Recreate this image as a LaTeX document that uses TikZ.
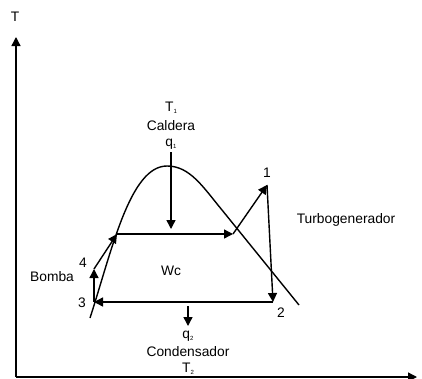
\documentclass[tikz,border=0pt]{standalone}
\usepackage{fontspec}
\setmainfont{Liberation Sans}
\usetikzlibrary{arrows.meta}
\newcommand{\sbs}[1]{\raisebox{-0.3ex}{\fontsize{6}{6}\selectfont #1}}
\tikzset{
  ln/.style={line width=1.4pt},
  arr/.style={ln,-{Triangle[length=9pt,width=9pt]}},
  lbl/.style={inner sep=0pt,font=\fontsize{13.8}{15}\selectfont}
}
\begin{document}
\begin{tikzpicture}[x=1pt,y=-1pt]
\useasboundingbox (0,0) rectangle (422,378);
% axes
\coordinate (o) at (16,377);
\coordinate (ytop) at (16,37);
\coordinate (xend) at (417,377);
\draw[arr] (o) -- (ytop);
\draw[arr] (o) -- (xend);
\node[lbl] (tlab) at (15,17) {T};
% saturation dome
\coordinate (d0) at (90,318);
\coordinate (dp) at (167,166);
\coordinate (d1) at (222,210);
\coordinate (d2) at (299,305);
\draw[ln] (d0) .. controls (112,250) and (130,166) .. (dp)
  .. controls (190,166) and (203,187) .. (d1) -- (d2);
% cycle points
\coordinate (p3) at (94,302);
\coordinate (p4) at (94,269);
\coordinate (pa) at (117,234);
\coordinate (pb) at (233,234);
\coordinate (p1) at (267,185);
\coordinate (p2) at (273,302);
\draw[arr] (p3) -- (p4);
\draw[arr] (p4) -- (pa);
\draw[arr] (pa) -- (pb);
\draw[arr] (pb) -- (p1);
\draw[arr] (p1) -- (p2);
\draw[arr] (p2) -- (p3);
% heat arrows
\coordinate (q1s) at (171,152);
\coordinate (q1e) at (171,229);
\coordinate (q2s) at (188,306);
\coordinate (q2e) at (188,326);
\draw[arr] (q1s) -- (q1e);
\draw[arr] (q2s) -- (q2e);
% labels
\node[lbl] (t1) at (171,108) {T\sbs{1}};
\node[lbl] (cald) at (171,126) {Caldera};
\node[lbl] (q1) at (171,144) {q\sbs{1}};
\node[lbl] (l1) at (267,173) {1};
\node[lbl] (turb) at (346,220) {Turbogenerador};
\node[lbl] (wc) at (171,271) {Wc};
\node[lbl] (l4) at (83,263) {4};
\node[lbl] (bomba) at (52,277) {Bomba};
\node[lbl] (l3) at (82,303) {3};
\node[lbl] (l2) at (281,313) {2};
\node[lbl] (q2) at (188,336) {q\sbs{2}};
\node[lbl] (cond) at (188,352) {Condensador};
\node[lbl] (t2) at (188,369) {T\sbs{2}};
\end{tikzpicture}
\end{document}
